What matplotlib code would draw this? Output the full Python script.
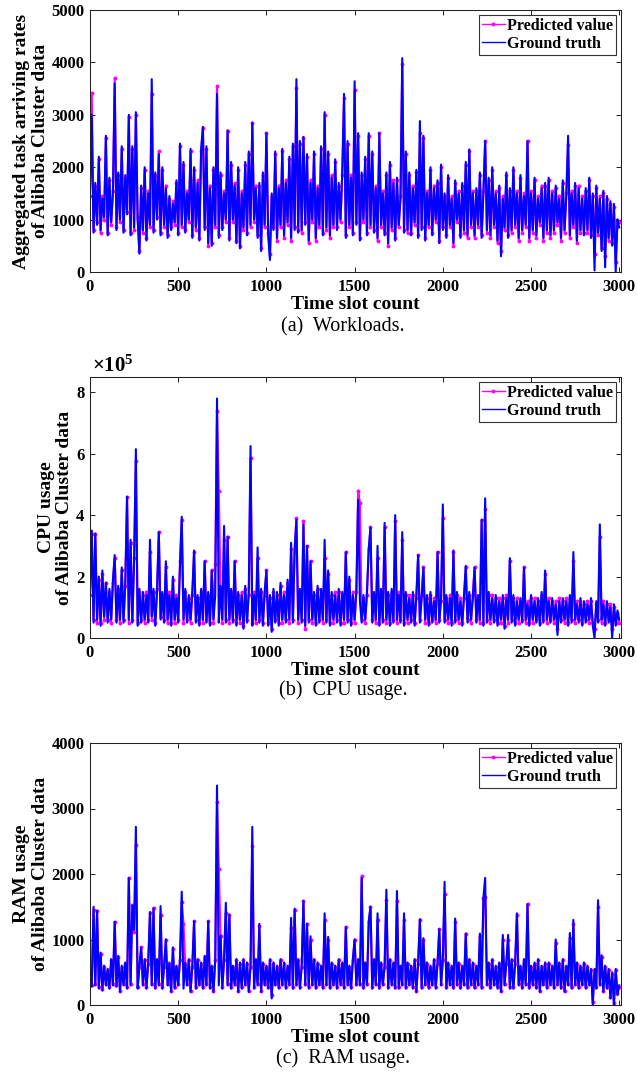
import matplotlib
matplotlib.use("Agg")
import matplotlib.pyplot as plt
import numpy as np

# ─── Data (one value every 10 time slots) ───────────────────────────────────
SLOT_STEP = 10

workload_truth = [
    1500, 3000, 750, 1700, 900, 2200, 800, 1400, 1050, 2600, 700, 1800, 950, 1500, 3600, 800, 1900, 1000, 2400, 750,
    1850, 1100, 3000, 700, 2400, 850, 3050, 1000, 350, 1650, 800, 2000, 600, 1500, 900, 3680, 750, 1900, 1000, 2250,
    700, 2000, 900, 1600, 650, 1450, 800, 1300, 950, 1750, 700, 2450, 900, 2100, 750, 1500, 1000, 2350, 650, 2000,
    850, 1700, 600, 2350, 2770, 800, 2400, 550, 1600, 500, 2000, 900, 3400, 650, 1900, 800, 1500, 1000, 2700, 600,
    2100, 1000, 1650, 550, 2000, 450, 1500, 850, 2100, 700, 2300, 900, 2850, 1000, 1600, 650, 1700, 400, 1900, 900,
    2650, 700, 230, 1500, 800, 2300, 650, 1600, 900, 2350, 700, 1700, 950, 2200, 650, 2450, 800, 3680, 750, 2500,
    800, 2580, 900, 2250, 600, 1700, 1000, 2300, 650, 1600, 900, 2400, 700, 3050, 850, 2300, 700, 1800, 900, 2150,
    800, 1700, 1000, 1900, 3400, 650, 2500, 900, 1800, 700, 3640, 900, 2650, 600, 1900, 1000, 2200, 700, 2650, 900,
    2300, 750, 1600, 650, 2650, 900, 1500, 700, 1900, 550, 2100, 850, 1700, 600, 1800, 900, 1400, 4080, 750, 2300,
    800, 1900, 700, 1600, 950, 1950, 650, 2880, 800, 2600, 600, 1500, 900, 2000, 700, 1600, 1000, 1750, 550, 2050,
    800, 1500, 650, 1850, 900, 1400, 550, 1750, 1000, 1500, 650, 1700, 800, 2100, 700, 2340, 900, 1500, 700, 1600,
    900, 1900, 650, 1500, 2500, 800, 1800, 700, 2000, 900, 1500, 600, 1650, 300, 1400, 850, 1900, 650, 1600, 800,
    2000, 900, 1500, 650, 1850, 800, 1450, 900, 2500, 650, 1500, 800, 1800, 700, 1400, 950, 1600, 650, 1700, 800,
    1800, 700, 1500, 800, 1650, 950, 1400, 650, 1750, 800, 1450, 2600, 700, 1500, 900, 1700, 600, 1600, 800, 1400,
    700, 1600, 800, 1800, 650, 1500, 30, 1650, 750, 1400, 400, 1550, 90, 1450, 650, 1350, 500, 1300, 0, 1000,
    850,
]
workload_pred = [
    1450, 3420, 800, 1650, 950, 2150, 750, 1450, 1000, 2550, 750, 1750, 900, 1550, 3700, 850, 1850, 950, 2350, 800,
    1800, 1150, 2950, 750, 2350, 800, 3000, 1050, 400, 1600, 750, 1950, 650, 1550, 850, 3400, 800, 1850, 1050, 2300,
    750, 1950, 850, 1650, 700, 1400, 850, 1350, 900, 1700, 750, 2400, 850, 2050, 800, 1550, 950, 2300, 700, 1950,
    800, 1750, 650, 2300, 2750, 850, 2350, 500, 1650, 550, 1950, 850, 3550, 700, 1850, 850, 1550, 950, 2700, 650,
    2050, 950, 1700, 600, 1950, 500, 1550, 800, 2050, 750, 2250, 850, 2850, 950, 1650, 700, 1650, 450, 1850, 850,
    2650, 750, 350, 1450, 850, 2250, 600, 1650, 850, 2300, 650, 1750, 900, 2150, 600, 2400, 850, 3520, 800, 2450,
    750, 2560, 950, 2200, 550, 1750, 950, 2250, 600, 1650, 850, 2350, 750, 3000, 800, 2250, 650, 1850, 850, 2100,
    850, 1650, 950, 1850, 3320, 700, 2450, 850, 1850, 750, 3470, 950, 2600, 650, 1850, 950, 2150, 750, 2600, 850,
    2250, 800, 1650, 600, 2650, 850, 1550, 750, 1850, 500, 2050, 800, 1750, 650, 1750, 850, 1450, 3960, 800, 2250,
    750, 1850, 750, 1650, 900, 1900, 700, 2650, 850, 2550, 650, 1550, 850, 1950, 750, 1650, 950, 1700, 600, 2000,
    850, 1450, 700, 1800, 850, 1450, 500, 1700, 950, 1550, 700, 1650, 750, 2050, 650, 2300, 850, 1550, 650, 1550,
    850, 1850, 700, 1550, 2500, 750, 1750, 650, 1950, 850, 1550, 550, 1600, 400, 1450, 800, 1850, 700, 1550, 750,
    1950, 850, 1550, 600, 1800, 750, 1500, 850, 2500, 600, 1550, 750, 1750, 650, 1450, 900, 1650, 600, 1650, 750,
    1750, 650, 1550, 750, 1600, 900, 1450, 600, 1700, 750, 1500, 2420, 650, 1550, 850, 1650, 550, 1650, 750, 1450,
    750, 1550, 750, 1750, 700, 1450, 350, 1600, 700, 1450, 450, 1500, 300, 1400, 600, 1300, 550, 1250, 200, 1000,
    950,
]

# CPU usage, in units of 1e5
cpu_truth = [
    1.5, 3.5, 0.5, 3.4, 0.6, 2.0, 0.4, 2.2, 0.7, 1.8, 0.5, 1.6, 0.6, 1.9, 2.7, 0.5, 1.7, 0.6, 2.3, 0.5,
    1.8, 4.6, 0.6, 3.2, 0.5, 2.5, 6.15, 0.4, 1.6, 0.5, 1.5, 0.6, 1.4, 0.5, 3.2, 0.7, 1.6, 0.4, 1.5, 3.45,
    0.6, 1.5, 0.5, 2.5, 0.6, 1.4, 0.4, 2.0, 0.6, 1.3, 0.5, 2.3, 3.95, 0.6, 1.6, 0.5, 1.4, 0.6, 1.5, 2.85,
    0.5, 1.4, 0.4, 1.6, 0.6, 2.5, 0.5, 1.5, 0.4, 2.2, 0.6, 1.4, 7.8, 0.5, 1.7, 0.6, 3.65, 0.5, 3.3, 0.6,
    1.6, 0.5, 2.5, 0.4, 1.5, 0.6, 1.4, 0.3, 1.7, 0.5, 1.5, 6.25, 0.4, 1.4, 0.6, 2.95, 0.5, 1.6, 0.4, 1.5,
    2.2, 0.4, 1.4, 0.2, 1.6, 0.5, 1.5, 0.4, 1.8, 0.6, 1.4, 0.5, 1.9, 0.6, 3.1, 0.5, 2.9, 3.85, 0.6, 1.6,
    0.5, 3.7, 0.4, 3.0, 0.5, 2.5, 0.6, 1.5, 0.4, 1.7, 0.5, 1.6, 0.6, 3.2, 0.5, 2.2, 0.4, 1.5, 0.6, 1.4,
    0.5, 1.6, 0.4, 1.5, 0.6, 2.8, 0.5, 2.0, 0.4, 1.4, 0.6, 1.6, 4.5, 1.2, 0.5, 1.4, 0.6, 1.5, 2.9, 3.6,
    0.5, 1.5, 0.6, 3.0, 0.4, 1.6, 0.5, 3.75, 0.6, 1.5, 0.4, 1.6, 0.5, 4.0, 0.6, 1.4, 0.5, 3.45, 0.4, 1.5,
    0.6, 1.3, 0.5, 1.5, 0.4, 1.4, 2.7, 0.5, 1.3, 2.3, 0.6, 1.4, 0.4, 1.5, 0.5, 1.2, 0.6, 2.8, 0.5, 1.3,
    4.35, 0.5, 1.4, 0.6, 1.3, 0.4, 2.85, 0.5, 1.5, 0.6, 1.2, 0.4, 1.4, 2.35, 0.5, 1.5, 0.6, 1.3, 2.3, 0.5,
    1.4, 0.6, 3.85, 0.4, 4.55, 0.5, 1.5, 0.6, 1.3, 0.5, 1.4, 0.4, 1.2, 0.6, 1.4, 0.3, 1.3, 0.6, 2.6, 0.5,
    1.4, 0.4, 1.2, 0.6, 1.3, 0.5, 2.3, 0.6, 1.1, 0.4, 1.4, 0.6, 1.2, 0.5, 1.3, 0.4, 1.5, 0.5, 2.2, 0.6,
    1.2, 0.5, 1.3, 0.6, 1.1, 0.1, 1.2, 0.5, 1.3, 0.6, 1.2, 0.4, 1.4, 0.5, 2.8, 0.6, 1.1, 0.5, 1.3, 0.4,
    1.2, 0.5, 1.1, 0.6, 1.3, 0.4, 0.0, 1.2, 0.5, 3.7, 0.6, 1.1, 0.4, 1.2, 0.5, 1.0, 0.0, 1.1, 0.4, 0.9,
    0.6,
]
cpu_pred = [
    1.4, 3.4, 0.6, 3.4, 0.5, 1.9, 0.5, 2.1, 0.6, 1.8, 0.6, 1.5, 0.5, 1.8, 2.6, 0.6, 1.6, 0.5, 2.2, 0.6,
    1.7, 4.6, 0.5, 3.1, 0.6, 2.6, 5.75, 0.5, 1.5, 0.6, 1.4, 0.5, 1.5, 0.6, 2.8, 0.6, 1.5, 0.5, 1.6, 3.45,
    0.7, 1.4, 0.6, 2.3, 0.5, 1.5, 0.5, 1.9, 0.5, 1.4, 0.6, 2.5, 3.85, 0.5, 1.5, 0.6, 1.3, 0.5, 1.4, 2.8,
    0.6, 1.3, 0.5, 1.5, 0.5, 2.5, 0.6, 1.4, 0.5, 2.2, 0.5, 2.4, 7.4, 4.8, 1.6, 0.5, 3.2, 0.6, 3.3, 0.5,
    1.5, 0.6, 2.5, 0.5, 1.4, 0.5, 1.5, 0.4, 1.6, 0.6, 1.4, 5.85, 0.5, 1.5, 0.5, 2.6, 0.6, 1.5, 0.5, 1.4,
    2.2, 0.5, 1.3, 0.3, 1.5, 0.6, 1.4, 0.5, 1.7, 0.5, 1.5, 0.6, 1.8, 0.5, 2.9, 0.6, 2.8, 3.9, 0.5, 1.5,
    0.6, 3.8, 0.3, 3.0, 0.6, 2.5, 0.5, 1.4, 0.5, 1.6, 0.6, 1.5, 0.5, 2.6, 0.6, 2.1, 0.5, 1.4, 0.5, 1.5,
    0.6, 1.5, 0.5, 1.4, 0.5, 2.8, 0.6, 1.9, 0.5, 1.5, 0.5, 1.5, 4.8, 4.4, 0.6, 1.3, 0.5, 1.4, 2.9, 3.6,
    0.6, 1.4, 0.5, 2.6, 0.5, 1.5, 0.6, 3.6, 0.5, 1.4, 0.5, 1.5, 0.6, 3.8, 0.5, 1.5, 0.6, 3.2, 0.5, 1.4,
    0.5, 1.4, 0.6, 1.4, 0.5, 1.3, 2.7, 0.6, 1.4, 2.3, 0.5, 1.3, 0.5, 1.4, 0.6, 1.3, 0.5, 2.8, 0.6, 1.2,
    3.9, 0.6, 1.3, 0.5, 1.4, 0.5, 2.8, 0.6, 1.4, 0.5, 1.3, 0.5, 1.3, 2.3, 0.6, 1.4, 0.5, 1.4, 2.3, 0.6,
    1.3, 0.5, 3.85, 0.5, 4.2, 0.6, 1.4, 0.5, 1.4, 0.6, 1.3, 0.5, 1.3, 0.5, 1.3, 0.4, 1.4, 0.5, 2.5, 0.6,
    1.3, 0.5, 1.3, 0.5, 1.2, 0.6, 2.3, 0.5, 1.2, 0.5, 1.3, 0.5, 1.3, 0.6, 1.2, 0.5, 1.4, 0.6, 2.1, 0.5,
    1.3, 0.6, 1.2, 0.5, 1.2, 0.3, 1.3, 0.6, 1.2, 0.5, 1.3, 0.5, 1.3, 0.6, 2.5, 0.5, 1.2, 0.6, 1.2, 0.5,
    1.1, 0.6, 1.2, 0.5, 1.2, 0.5, 0.3, 1.1, 0.6, 3.3, 0.5, 1.2, 0.5, 1.1, 0.6, 1.1, 0.3, 1.0, 0.5, 0.8,
    0.5,
]

ram_truth = [
    500, 280, 1500, 300, 1440, 250, 800, 220, 600, 300, 550, 250, 700, 300, 1270, 280, 750, 200, 600, 300,
    650, 250, 1940, 300, 1520, 1150, 2720, 250, 600, 880, 300, 700, 250, 650, 1420, 300, 1480, 250, 700, 300,
    1510, 250, 600, 1000, 300, 650, 200, 880, 250, 600, 300, 700, 1730, 250, 650, 300, 700, 200, 600, 1280,
    250, 700, 300, 650, 250, 750, 300, 1280, 250, 600, 200, 700, 3350, 300, 1060, 250, 700, 1560, 300, 1380,
    250, 600, 300, 700, 200, 650, 250, 700, 300, 650, 200, 600, 2720, 250, 700, 300, 1240, 200, 650, 300,
    600, 250, 700, 100, 650, 300, 600, 250, 700, 300, 650, 250, 600, 300, 1330, 250, 1470, 300, 700, 250,
    600, 1590, 300, 1240, 250, 1050, 300, 700, 250, 650, 300, 600, 250, 1400, 300, 1040, 250, 650, 300, 600,
    250, 700, 300, 650, 250, 1190, 300, 600, 250, 700, 1000, 300, 700, 300, 1940, 250, 650, 300, 1270, 1500,
    250, 700, 300, 1400, 250, 650, 300, 600, 1760, 250, 700, 300, 650, 250, 1740, 250, 600, 300, 1400, 250,
    650, 300, 600, 250, 700, 200, 650, 1310, 250, 1020, 300, 650, 250, 600, 300, 700, 250, 650, 1160, 300,
    700, 1880, 250, 650, 300, 600, 250, 1320, 300, 650, 250, 600, 300, 1090, 250, 700, 300, 650, 250, 600,
    300, 1090, 250, 1640, 1940, 300, 650, 250, 700, 300, 600, 250, 650, 200, 1070, 300, 650, 1070, 250, 700,
    250, 650, 1400, 300, 600, 250, 700, 300, 1540, 250, 600, 300, 650, 250, 700, 200, 600, 300, 650, 250,
    650, 300, 600, 250, 1000, 300, 650, 250, 700, 200, 600, 300, 1100, 250, 1300, 300, 650, 250, 600, 300,
    650, 250, 600, 300, 550, 0, 550, 250, 1600, 300, 760, 200, 600, 250, 550, 100, 500, 0, 550, 150,
    300,
]
ram_pred = [
    480, 300, 1450, 320, 1440, 270, 780, 240, 580, 320, 530, 270, 680, 320, 1270, 300, 730, 220, 580, 320,
    630, 270, 1940, 320, 1520, 1120, 2440, 270, 580, 880, 320, 680, 270, 630, 1400, 320, 1480, 270, 680, 320,
    1380, 270, 580, 1000, 320, 630, 220, 860, 270, 580, 320, 680, 1570, 1240, 630, 320, 680, 220, 580, 1280,
    270, 680, 320, 630, 270, 730, 320, 1280, 270, 580, 220, 680, 3100, 2080, 1060, 270, 680, 1400, 320, 1380,
    270, 580, 320, 680, 220, 630, 270, 680, 320, 630, 220, 580, 2420, 270, 680, 320, 1200, 220, 630, 320,
    580, 270, 680, 150, 630, 320, 580, 270, 680, 320, 630, 270, 580, 320, 1180, 270, 1450, 320, 680, 270,
    580, 1590, 320, 1240, 270, 1000, 320, 680, 270, 630, 320, 580, 270, 1300, 320, 1000, 270, 630, 320, 580,
    270, 680, 320, 630, 270, 1190, 320, 580, 270, 680, 1000, 320, 680, 320, 1970, 270, 630, 320, 1270, 1500,
    270, 680, 320, 1300, 270, 630, 320, 580, 1610, 270, 680, 320, 630, 270, 1590, 270, 580, 320, 1300, 270,
    630, 320, 580, 270, 680, 220, 630, 1300, 270, 1000, 320, 630, 270, 580, 320, 680, 270, 630, 1160, 320,
    680, 1690, 270, 630, 320, 580, 270, 1270, 320, 630, 270, 580, 320, 1090, 270, 680, 320, 630, 270, 580,
    320, 1050, 270, 1640, 1650, 320, 630, 270, 680, 320, 580, 270, 630, 220, 1000, 320, 630, 1000, 270, 680,
    270, 630, 1370, 320, 580, 270, 680, 320, 1540, 270, 580, 320, 630, 270, 680, 220, 580, 320, 630, 270,
    630, 320, 580, 270, 950, 320, 630, 270, 680, 220, 580, 320, 1020, 270, 1240, 320, 630, 270, 580, 320,
    630, 270, 580, 320, 530, 50, 530, 270, 1500, 320, 740, 220, 580, 270, 530, 120, 480, 30, 530, 180,
    280,
]

X_TICKS = [0, 500, 1000, 1500, 2000, 2500, 3000]
LEGEND_LABELS = ["Predicted value", "Ground truth"]

# ─── Style ──────────────────────────────────────────────────────────────────
plt.rcParams["font.family"] = ["Liberation Serif", "DejaVu Serif"]
plt.rcParams["font.weight"] = "bold"
plt.rcParams["mathtext.fontset"] = "custom"
plt.rcParams["mathtext.rm"] = "Liberation Serif"
plt.rcParams["mathtext.bf"] = "Liberation Serif:bold"

W, H = 637, 1074
fig = plt.figure(figsize=(W / 100, H / 100), dpi=100)


def add_panel(top_px, bottom_px, truth, pred, ylabel, ylim, yticks, caption, cap_y_px):
    ax = fig.add_axes([90 / W, 1 - bottom_px / H, 531 / W, (bottom_px - top_px) / H])
    slots_p = np.arange(len(pred)) * SLOT_STEP
    slots_t = np.arange(len(truth)) * SLOT_STEP
    ax.plot(slots_p, pred, color="#ff00ff", lw=1.5, marker=".", ms=3.6,
            label=LEGEND_LABELS[0])
    ax.plot(slots_t, truth, color="#0000ff", lw=1.5, label=LEGEND_LABELS[1])
    ax.set_xlim(0, 3010)
    ax.set_ylim(*ylim)
    ax.set_xticks(X_TICKS)
    ax.set_yticks(yticks)
    ax.tick_params(direction="in", top=True, right=True, length=3.5, width=0.6,
                   labelsize=12, pad=4)
    ax.tick_params(axis="x", pad=5)
    for sp in ax.spines.values():
        sp.set_linewidth(0.75)
        sp.set_color("#222222")
    ax.set_xlabel("Time slot count", fontsize=14, fontweight="bold", labelpad=0.5)
    ax.set_ylabel(ylabel, fontsize=14, fontweight="bold", labelpad=2, linespacing=1.1)
    leg = ax.legend(loc="upper right", fontsize=11.5, fancybox=False, framealpha=1,
                    edgecolor="#333333", borderaxespad=0.3, borderpad=0.2,
                    labelspacing=0.1, handlelength=1.4, handletextpad=0.15,
                    numpoints=1)
    leg.get_frame().set_linewidth(0.8)
    for line in leg.get_lines():
        line.set_linewidth(1.0)
    fig.text(343 / W, 1 - cap_y_px / H, caption, fontsize=14.5, fontweight="normal",
             ha="center", va="center")
    return ax


add_panel(10, 272, workload_truth, workload_pred,
          "Aggregated task arriving rates\nof Alibaba Cluster data",
          (0, 5000), [0, 1000, 2000, 3000, 4000, 5000], "(a)  Workloads.", 327)

ax_b = add_panel(377, 638, cpu_truth, cpu_pred,
                 "CPU usage\nof Alibaba Cluster data",
                 (0, 8.5), [0, 2, 4, 6, 8], "(b)  CPU usage.", 690)
ax_b.text(0.003, 1.0, r"$\times\mathbf{10^{5}}$", transform=ax_b.transAxes,
          fontsize=15, ha="left", va="bottom")

add_panel(743, 1005, ram_truth, ram_pred,
          "RAM usage\nof Alibaba Cluster data",
          (0, 4000), [0, 1000, 2000, 3000, 4000], "(c)  RAM usage.", 1058)

fig.savefig("out.png", dpi=100)
